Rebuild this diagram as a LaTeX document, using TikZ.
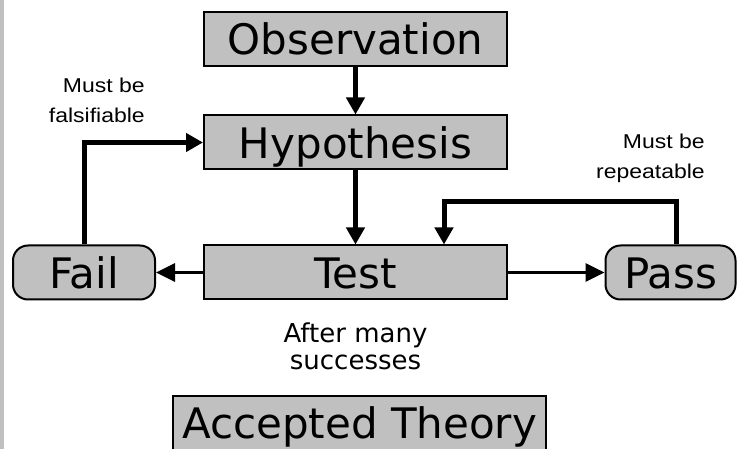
\documentclass[tikz,border=0pt]{standalone}
\usepackage{fontspec}
\setmainfont{DejaVu Sans}
\newfontfamily\notefont{Liberation Sans}[FakeStretch=1.15]
\usepackage{tikz}
\usetikzlibrary{arrows.meta}
\definecolor{boxgray}{HTML}{C0C0C0}
\tikzset{blk/.style={rectangle,draw,fill=boxgray,line width=2pt,minimum height=54pt,inner sep=0pt,text height=32pt,text depth=0pt,font=\fontsize{42}{48}\selectfont},
rnd/.style={blk,rounded corners=15pt},
note/.style={inner sep=0pt,align=right,font=\notefont\fontsize{20}{30}\selectfont},
fat/.style={line width=5pt,-{Triangle[length=17pt,width=18pt]}},
slim/.style={line width=3pt,-{Triangle[length=19pt,width=18pt]}}}

\begin{document}
\begin{tikzpicture}[x=1pt,y=-1pt]
        \useasboundingbox (0,0) rectangle (737,449);
        \fill[boxgray] (0,0) rectangle (4,449);

        \node[blk,minimum width=303pt] (obs) at (355.5,39) {Observation};
        \node[blk,minimum width=303pt] (hyp) at (355.5,142.5) {Hypothesis};
        \node[blk,minimum width=303pt] (test) at (355.5,272.5) {Test};
        \node[rnd,minimum width=142pt] (fail) at (84,272.5) {Fail};
        \node[rnd,minimum width=130pt] (pass) at (670.5,272.5) {Pass};
        \node[blk,minimum width=373pt] (acc) at (359.5,422.5) {Accepted Theory};

        \node[note,anchor=north east] (fals) at (145,78) {Must be\\falsifiable};
        \node[note,anchor=north east] (rep) at (705,134) {Must be\\repeatable};
        \node[inner sep=0pt,align=center,font=\fontsize{26}{27}\selectfont,anchor=north] (succ) at (355.5,323) {After many\\successes};

        \coordinate (rpt) at (444,202);

        \draw [fat] (obs) -- (hyp);
        \draw [fat] (hyp) -- (test);
        \draw [slim] (test) -- (fail);
        \draw [slim] (test) -- (pass);
        \draw [fat] (fail.north) |- (hyp.west);
        \draw [fat] ([xshift=6pt]pass.north) |- (rpt) -- (rpt |- test.north);
    \end{tikzpicture}
\end{document}
